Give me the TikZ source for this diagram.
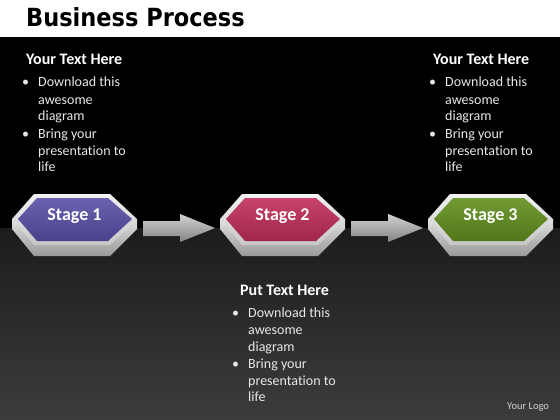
\documentclass[tikz,border=0pt]{standalone}
\usepackage{fontspec}
\setmainfont{Carlito}[Ligatures=NoCommon]
\newfontfamily\titlefont{DejaVu Sans}
\usetikzlibrary{positioning}

\definecolor{stpurple}{HTML}{5A50A8}
\definecolor{stred}{HTML}{C22E5C}
\definecolor{stgreen}{HTML}{62901E}
\definecolor{textgrey}{HTML}{E8E8E8}
\definecolor{floortop}{HTML}{1C1C1C}
\definecolor{floorbot}{HTML}{3C3C3C}

% heading x, text x, heading baseline, heading, name
\newcommand{\infoblock}[5]{%
  \node[heading] (#5h) at (#1,#3) {#4};
  \node[body] (#5b1) at (#2-16,#3+22) {\textbullet};
  \node[body] (#5t1) at (#2,#3+22) {Download this};
  \node[body] (#5t2) at (#2,#3+39) {awesome};
  \node[body] (#5t3) at (#2,#3+56) {diagram};
  \node[body] (#5b2) at (#2-16,#3+73) {\textbullet};
  \node[body] (#5t4) at (#2,#3+73) {Bring your};
  \node[body] (#5t5) at (#2,#3+90) {presentation to};
  \node[body] (#5t6) at (#2,#3+106) {life};
}

\begin{document}
\begin{tikzpicture}[x=1pt,y=-1pt,
    heading/.style={anchor=base west, inner sep=0pt, text=white,
      font=\fontsize{16}{16}\selectfont\bfseries},
    body/.style={anchor=base west, inner sep=0pt, text=textgrey,
      font=\fontsize{14}{14}\selectfont},
    stagelabel/.style={inner sep=0pt, text=white,
      font=\fontsize{18}{18}\selectfont\bfseries},
    bevel/.style={top color=white!95!black, bottom color=white!78!black},
    side/.style={top color=white!88!black, bottom color=white!60!black},
    blockarrow/.style={top color=white!82!black, bottom color=white!52!black}]
    \useasboundingbox (0,0) rectangle (560,420);

    % backdrop
    \fill[white] (0,0) rectangle (560,37);
    \fill[black] (0,37) rectangle (560,228);
    \shade[top color=floortop, bottom color=floorbot] (0,228) rectangle (560,420);

    \node[anchor=base west, inner sep=0pt, xscale=0.9,
      font=\titlefont\bfseries\fontsize{25}{25}\selectfont] (title) at (26,27) {Business Process};

    % stages
    \foreach \hx/\col/\n in {12/stpurple/1,220/stred/2,428/stgreen/3} {
      \begin{scope}[shift={(\hx,0)}]
        \shade[side] (0,219) -- (0,229) -- (22,256) -- (98,256) -- (125,229) -- (125,219) -- cycle;
        \shade[bevel] (0,219) -- (22,194) -- (98,194) -- (125,219) -- (98,245) -- (22,245) -- cycle;
        \shade[top color=\col!90!white, bottom color=\col!82!black]
          (6,219) -- (25,198) -- (96,198) -- (120,219) -- (96,241) -- (25,241) -- cycle;
        \node[stagelabel] (s\n) at (62.5,216) {Stage \n};
      \end{scope}
    }

    \foreach \ax in {143,351} {
      \shade[blockarrow] (\ax,221) -- (\ax+37,221) -- (\ax+37,214) -- (\ax+72,228)
        -- (\ax+37,242) -- (\ax+37,236) -- (\ax,236) -- cycle;
    }

    \infoblock{26}{38}{65}{Your Text Here}{l}
    \infoblock{433}{445}{65}{Your Text Here}{r}
    \infoblock{240}{248}{295}{Put Text Here}{c}

    \node[anchor=base west, inner sep=0pt, text=white!82!black,
      font=\fontsize{10.5}{10.5}\selectfont] (logo) at (507,409) {Your Logo};
\end{tikzpicture}
\end{document}
